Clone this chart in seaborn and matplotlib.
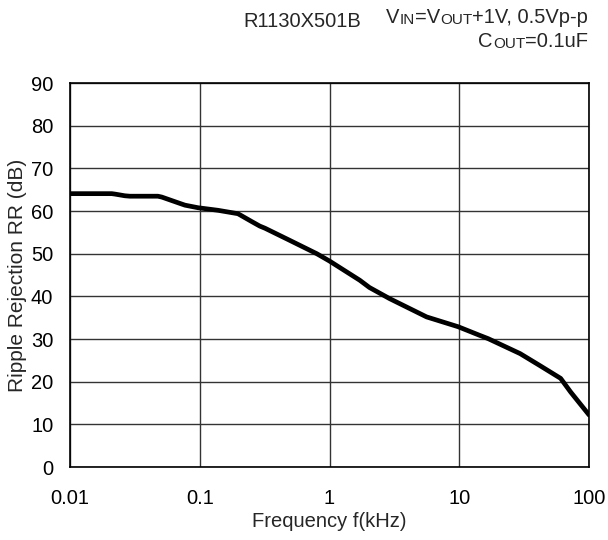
import numpy as np
import pandas as pd
import seaborn as sns
import matplotlib
matplotlib.use("Agg")
import matplotlib.pyplot as plt

# ripple rejection curve
freq_khz = [0.01, 0.021, 0.0222, 0.0265, 0.029, 0.0476, 0.051, 0.0705, 0.077, 0.097,
            0.138, 0.197, 0.25, 0.29, 0.318, 0.49, 0.80, 1.0, 1.71, 2.03, 2.9, 5.6,
            9.8, 14.3, 16.7, 29.4, 41.7, 60.3, 72.0, 100.0]
rr_db = [64.1, 64.1, 64.0, 63.6, 63.5, 63.5, 63.3, 61.8, 61.4, 60.8,
         60.2, 59.4, 57.6, 56.5, 56.0, 53.2, 50.0, 48.3, 43.8, 42.1, 39.5, 35.2,
         32.9, 30.9, 30.1, 26.6, 23.8, 20.8, 17.6, 12.2]
x_ticks = [0.01, 0.1, 1, 10, 100]
x_labels = ["0.01", "0.1", "1", "10", "100"]
y_ticks = list(range(0, 100, 10))

df = pd.DataFrame({"f": freq_khz, "rr": rr_db})

sns.set_style("white")
plt.rcParams["font.family"] = ["Liberation Sans", "DejaVu Sans"]

fig = plt.figure(figsize=(6.08, 5.4), dpi=100)
ax = fig.add_axes([0.115, 0.135, 0.854, 0.711])
sns.lineplot(data=df, x="f", y="rr", ax=ax, color="black", linewidth=3.4)
ax.set_xscale("log")
ax.set_xlim(0.01, 100)
ax.set_ylim(0, 90)
ax.set_xticks(x_ticks)
ax.set_xticklabels(x_labels)
ax.set_yticks(y_ticks)
ax.minorticks_off()
ax.grid(True, color="#333333", linewidth=1.0)
for s in ax.spines.values():
    s.set_color("black")
    s.set_linewidth(1.2)
ax.tick_params(labelsize=14.5, colors="black", length=0)
ax.tick_params(axis="x", pad=16)
ax.tick_params(axis="y", pad=12)
ax.set_xlabel("Frequency f(kHz)", fontsize=14.5, labelpad=3)
ax.set_ylabel("Ripple Rejection RR (dB)", fontsize=15, labelpad=3)


def chain_right(parts, x, y):
    # parts: (text, size); laid out right to left so the line ends at x
    nxt = None
    for txt, size in reversed(parts):
        if nxt is None:
            t = fig.text(x, y, txt, fontsize=size, va="baseline", ha="right")
        else:
            t = ax.annotate(txt, xy=(0, 0), xycoords=nxt, fontsize=size,
                            va="bottom", ha="right", annotation_clip=False)
        nxt = t


big, small = 14.5, 11
fig.text(243 / 608, 1 - 27 / 540, "R1130X501B", fontsize=big, va="baseline")
chain_right([("V", big), ("IN", small), ("=V", big), ("OUT", small), ("+1V, 0.5Vp-p", big)],
            588 / 608, 1 - 23 / 540)
chain_right([("C", big), ("OUT", small), ("=0.1uF", big)], 588 / 608, 1 - 47 / 540)

fig.savefig("out.png", dpi=100)
